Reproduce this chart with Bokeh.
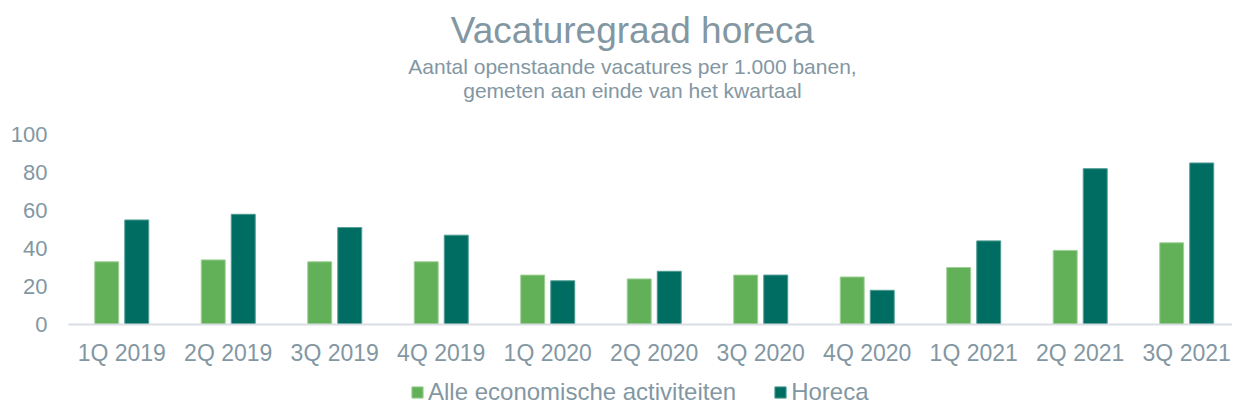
from bokeh.plotting import figure
from bokeh.layouts import column
from bokeh.models import (Range1d, FixedTicker, Label, Legend, LegendItem,
                          ColumnDataSource)
from bokeh.transform import dodge
from bokeh.embed import file_html
from bokeh.resources import INLINE

# ---- data ----
quarters = ["1Q 2019", "2Q 2019", "3Q 2019", "4Q 2019", "1Q 2020", "2Q 2020",
            "3Q 2020", "4Q 2020", "1Q 2021", "2Q 2021", "3Q 2021"]
alle = [33, 34, 33, 33, 26, 24, 26, 25, 30, 39, 43]
horeca = [55, 58, 51, 47, 23, 28, 26, 18, 44, 82, 85]
y_ticks = [0, 20, 40, 60, 80, 100]
series_names = ["Alle economische activiteiten", "Horeca"]
title_text = "Vacaturegraad horeca"
subtitle_lines = ["Aantal openstaande vacatures per 1.000 banen,",
                  "gemeten aan einde van het kwartaal"]

# ---- style ----
FONT = "Liberation Sans"
TXT = "#8397A3"
C_ALLE = "#62B058"
C_HOR = "#006D62"
E_ALLE = "#9FD197"
E_HOR = "#4F9C93"

xpos = [i + 0.5 for i in range(len(quarters))]
src = ColumnDataSource(dict(x=xpos, q=quarters, alle=alle, horeca=horeca))

p = figure(width=1232, height=378, output_backend="svg", toolbar_location=None,
           x_range=Range1d(0, 10.93), y_range=Range1d(0, 170.5),
           min_border_left=68, min_border_right=0, min_border_top=0,
           min_border_bottom=54, title=None)
p.outline_line_color = None
p.xgrid.visible = False
p.ygrid.visible = False
p.background_fill_color = "white"
p.border_fill_color = "white"

bar_kw = dict(width=0.225, source=src, line_width=1)
r1 = p.vbar(x=dodge("x", -0.141), top="alle", fill_color=C_ALLE,
            line_color=E_ALLE, **bar_kw)
r2 = p.vbar(x=dodge("x", 0.141), top="horeca", fill_color=C_HOR,
            line_color=E_HOR, **bar_kw)

# y axis
ya = p.yaxis[0]
ya.ticker = FixedTicker(ticks=y_ticks)
ya.bounds = (0, 100)
ya.axis_line_color = None
ya.major_tick_line_color = None
ya.minor_tick_line_color = None
ya.major_tick_out = 0
ya.major_label_standoff = 21
ya.major_label_text_font = FONT
ya.major_label_text_font_size = "22px"
ya.major_label_text_color = TXT

# x axis
xa = p.xaxis[0]
xa.ticker = FixedTicker(ticks=xpos)
xa.major_label_overrides = {x: q for x, q in zip(xpos, quarters)}
xa.axis_line_color = "#D9DEE3"
xa.axis_line_width = 2
xa.major_tick_line_color = None
xa.minor_tick_line_color = None
xa.major_tick_out = 0
xa.major_label_standoff = 15
xa.major_label_text_font = FONT
xa.major_label_text_font_size = "23px"
xa.major_label_text_color = TXT

# titles
cx = 5.296
p.add_layout(Label(x=cx, y=154.7, text=title_text, text_align="center",
                   text_baseline="middle", text_font=FONT,
                   text_font_size="37px", text_color=TXT))
p.add_layout(Label(x=cx, y=135.8, text=subtitle_lines[0], text_align="center",
                   text_baseline="middle", text_font=FONT,
                   text_font_size="21px", text_color=TXT))
p.add_layout(Label(x=cx, y=123.2, text=subtitle_lines[1], text_align="center",
                   text_baseline="middle", text_font=FONT,
                   text_font_size="21px", text_color=TXT))

# legend strip (separate small figure below the chart); its bars lie
# outside its y range, so only the legend shows
pl = figure(width=1232, height=28, output_backend="svg", toolbar_location=None,
            x_range=Range1d(0, 10.93), y_range=Range1d(500, 501),
            x_axis_location=None, y_axis_location=None,
            min_border=0, title=None)
pl.outline_line_color = None
pl.xgrid.visible = False
pl.ygrid.visible = False
l1 = pl.vbar(x=dodge("x", -0.141), top="alle", fill_color=C_ALLE,
             line_color=E_ALLE, **bar_kw)
l2 = pl.vbar(x=dodge("x", 0.141), top="horeca", fill_color=C_HOR,
             line_color=E_HOR, **bar_kw)
legend = Legend(items=[LegendItem(label=series_names[0], renderers=[l1]),
                       LegendItem(label=series_names[1], renderers=[l2])],
                location=(342, 0), orientation="horizontal",
                label_text_font=FONT, label_text_font_size="24px",
                label_text_color=TXT, glyph_width=14, glyph_height=14,
                label_standoff=4, spacing=37, padding=0, margin=0,
                border_line_color=None, background_fill_alpha=0)
pl.add_layout(legend, "center")

open("out.html", "w").write(file_html(column(p, pl, spacing=0), INLINE))
